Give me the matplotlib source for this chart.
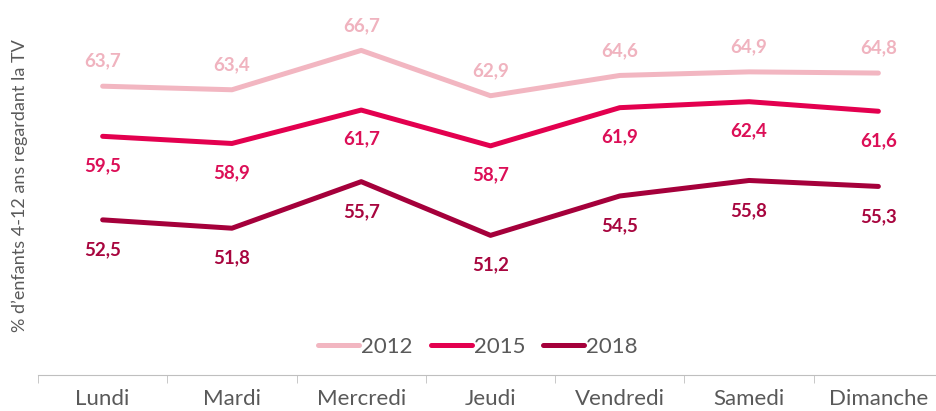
import matplotlib
matplotlib.use("Agg")
import matplotlib.pyplot as plt
from matplotlib.ticker import FixedLocator

days = ["Lundi", "Mardi", "Mercredi", "Jeudi", "Vendredi", "Samedi", "Dimanche"]
v2012 = [63.7, 63.4, 66.7, 62.9, 64.6, 64.9, 64.8]
v2015 = [59.5, 58.9, 61.7, 58.7, 61.9, 62.4, 61.6]
v2018 = [52.5, 51.8, 55.7, 51.2, 54.5, 55.8, 55.3]

FONT = ["Lato", "DejaVu Sans"]
plt.rcParams["font.family"] = FONT

W, H = 936, 411
fig = plt.figure(figsize=(W / 100, H / 100), dpi=100)
left, bottom, top = 38, 375, 11
ax = fig.add_axes([left / W, (H - bottom) / H, (W - left) / W, (bottom - top) / H])

x = list(range(len(days)))
series = [
    ("2012", v2012, "#F2B6C1", "#F0B3BF", 18),
    ("2015", v2015, "#E3004F", "#DC0F57", -21),
    ("2018", v2018, "#A5003B", "#A8063F", -21.5),
]
for name, vals, col, tcol, off in series:
    ax.plot(x, vals, color=col, lw=3.6, solid_capstyle="round", label=name)
    for xi, v in zip(x, vals):
        ax.annotate(f"{v:.1f}".replace(".", ","), (xi, v), xytext=(0, off),
                    textcoords="offset points", ha="center", va="center",
                    fontsize=13.5, fontweight="bold", color=tcol)

ax.set_xlim(-0.5, 6.5 - 7 / 129)
ax.set_ylim(39.5, 70)
ax.set_yticks([])
for s in ("top", "right", "left"):
    ax.spines[s].set_visible(False)
ax.spines["bottom"].set_color("#BFBFBF")
ax.set_xticks(x)
ax.set_xticklabels(days, fontsize=16, color="#595959")
ax.tick_params(axis="x", which="major", length=0, pad=10)
ax.xaxis.set_minor_locator(FixedLocator([i - 0.5 for i in range(8)]))
ax.tick_params(axis="x", which="minor", length=6, color="#BFBFBF", direction="out")

fig.text(20 / W, 0.5 + (H / 2 - 186) / H, "% d’enfants 4-12 ans regardant la TV",
         rotation=90, ha="center", va="center", fontsize=13, color="#595959")

leg = ax.legend(loc="center", bbox_to_anchor=(0.49, 0.077), ncol=3, frameon=False,
                fontsize=16, handlelength=1.85, handletextpad=0.1, columnspacing=0.8)
for t in leg.get_texts():
    t.set_color("#595959")

fig.savefig("out.png", dpi=100)
